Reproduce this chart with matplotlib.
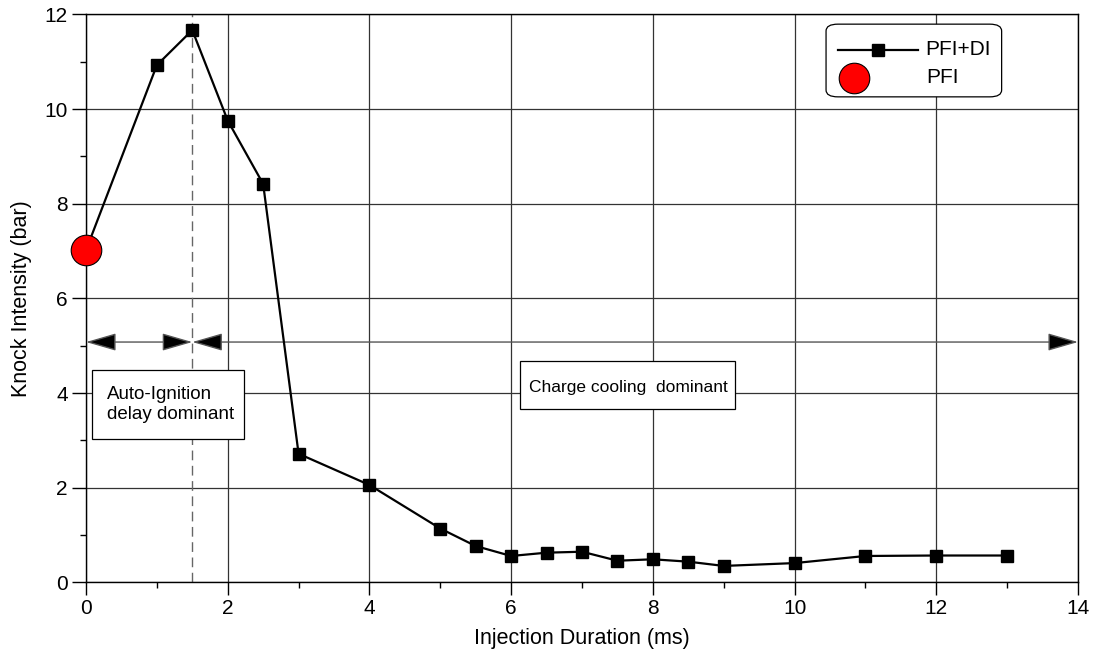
import matplotlib
matplotlib.use('Agg')
import matplotlib.pyplot as plt
from matplotlib.patches import Rectangle, FancyBboxPatch, FancyArrowPatch
from matplotlib.lines import Line2D
from matplotlib.ticker import MultipleLocator

plt.rcParams['font.family'] = ['Liberation Sans', 'DejaVu Sans']

# PFI+DI series (first point shared with the PFI case)
inj_duration = [0, 1, 1.5, 2, 2.5, 3, 4, 5, 5.5, 6, 6.5, 7, 7.5, 8, 8.5, 9, 10, 11, 12, 13]
knock_pfi_di = [7.02, 10.93, 11.67, 9.76, 8.42, 2.72, 2.06, 1.14, 0.77, 0.56, 0.63, 0.65,
                0.46, 0.49, 0.44, 0.35, 0.41, 0.56, 0.57, 0.57]
# PFI only
pfi_x = [0]
pfi_y = [7.02]

boundary_x = 1.5
arrow_y = 5.08

fig = plt.figure(figsize=(10.97, 6.59), dpi=100)
ax = fig.add_axes([0.0784, 0.1161, 0.9043, 0.8619])

ax.set_xlim(0, 14)
ax.set_ylim(0, 12)
ax.xaxis.set_major_locator(MultipleLocator(2))
ax.xaxis.set_minor_locator(MultipleLocator(1))
ax.yaxis.set_major_locator(MultipleLocator(2))
ax.yaxis.set_minor_locator(MultipleLocator(1))
ax.tick_params(axis='x', which='major', direction='out', length=9, width=1, labelsize=15, pad=3)
ax.tick_params(axis='x', which='minor', direction='out', length=4.5, width=1)
ax.tick_params(axis='y', which='major', direction='out', length=10, width=1, labelsize=15, pad=3)
ax.tick_params(axis='y', which='minor', direction='out', length=4.5, width=1)
ax.grid(True, which='major', color='#333333', linewidth=0.9, zorder=0)
ax.set_axisbelow(True)
for s in ax.spines.values():
    s.set_linewidth(1)
    s.set_color('black')

ax.set_xlabel('Injection Duration (ms)', fontsize=15.5, labelpad=7)
ax.set_ylabel('Knock Intensity (bar)', fontsize=15.5, labelpad=9)

# boundary between regimes
ax.axvline(boundary_x, color='#666666', linewidth=1, dashes=(7, 4), zorder=1)

# regime arrows
for x0, x1 in [(0, boundary_x), (boundary_x, 14)]:
    arr = FancyArrowPatch((x0, arrow_y), (x1, arrow_y),
                          arrowstyle='<|-|>,head_length=19,head_width=5.5',
                          mutation_scale=1, shrinkA=0, shrinkB=0,
                          facecolor='black', edgecolor='#555555', linewidth=1,
                          zorder=3, clip_on=False)
    ax.add_patch(arr)

# annotation boxes
ax.add_patch(Rectangle((0.09, 3.03), 2.14, 1.46, facecolor='white', edgecolor='black',
                       linewidth=0.9, zorder=3))
ax.text(0.29, 3.76, 'Auto-Ignition\ndelay dominant', ha='left', va='center',
        fontsize=13.5, linespacing=1.3, zorder=4)
ax.add_patch(Rectangle((6.13, 3.66), 3.03, 1.01, facecolor='white', edgecolor='black',
                       linewidth=0.9, zorder=3))
ax.text(7.65, 4.12, 'Charge cooling  dominant', ha='center', va='center',
        fontsize=12.5, zorder=4)

# data
ax.plot(inj_duration, knock_pfi_di, color='black', linewidth=1.6, marker='s',
        markersize=9, zorder=4)
ax.plot(pfi_x, pfi_y, linestyle='none', marker='o', markersize=22,
        markerfacecolor='red', markeredgecolor='black', markeredgewidth=0.8,
        zorder=6, clip_on=False)

# legend drawn in axes fraction
tr = ax.transAxes
ax.add_patch(FancyBboxPatch((0.746, 0.855), 0.177, 0.128, transform=tr,
                            boxstyle='round,pad=0,rounding_size=0.012',
                            facecolor='white', edgecolor='black', linewidth=0.9, zorder=7))
ax.add_line(Line2D([0.758, 0.839], [0.938, 0.938], transform=tr, color='black',
                   linewidth=1.6, zorder=8))
ax.add_line(Line2D([0.7985], [0.938], transform=tr, marker='s', markersize=8.5,
                   color='black', zorder=8))
ax.add_line(Line2D([0.7745], [0.889], transform=tr, marker='o', markersize=22,
                   markerfacecolor='red', markeredgecolor='black', markeredgewidth=0.8,
                   zorder=8))
ax.text(0.846, 0.938, 'PFI+DI', transform=tr, ha='left', va='center', fontsize=15, zorder=9)
ax.text(0.847, 0.889, 'PFI', transform=tr, ha='left', va='center', fontsize=15, zorder=9)

fig.savefig('out.png', dpi=100)
